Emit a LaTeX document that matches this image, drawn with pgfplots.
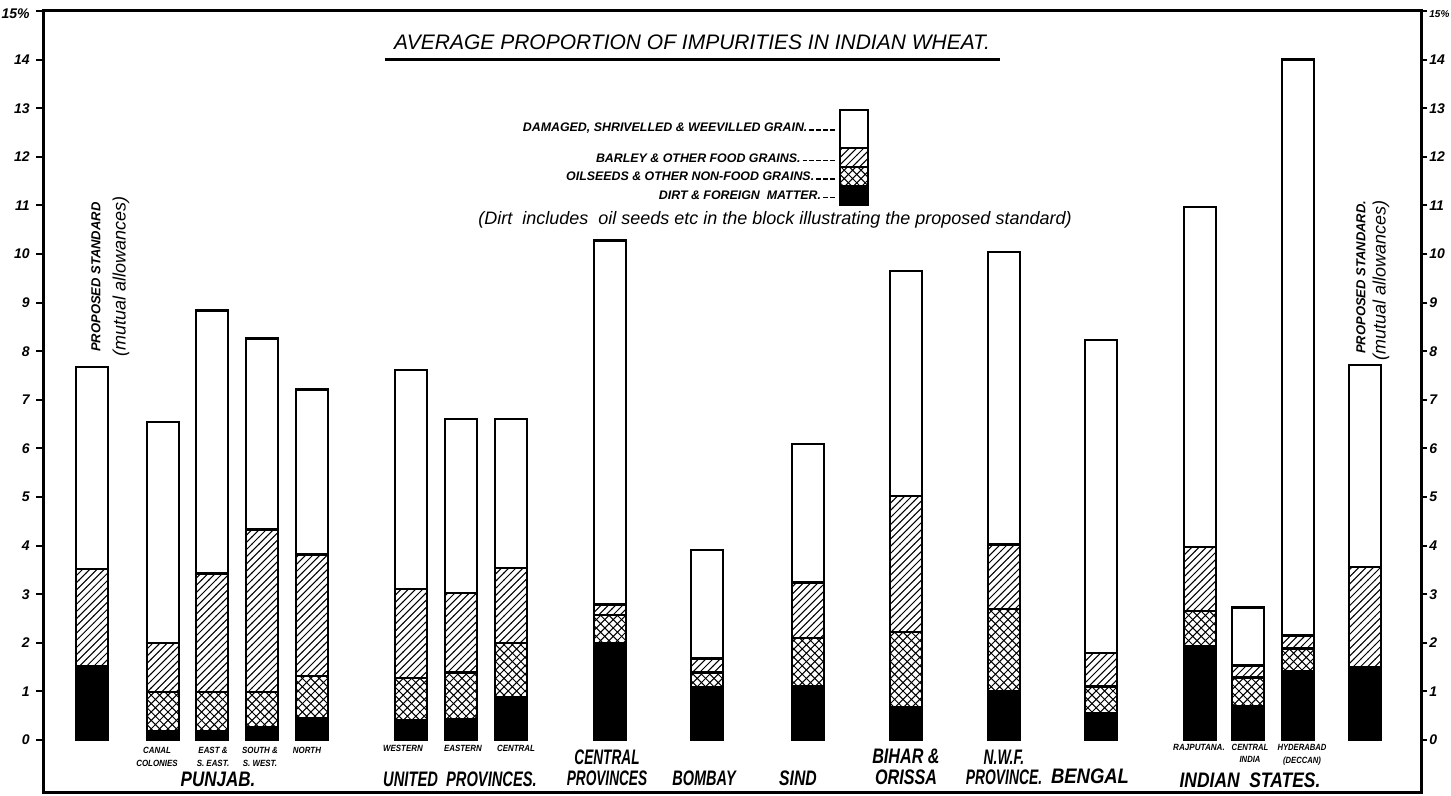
\documentclass[border=0pt]{standalone}
\usepackage{graphicx}
\usepackage{pgfplots}
\pgfplotsset{compat=1.18}
\usepackage{pgfplotstable}
\usetikzlibrary{patterns}
\usepackage{fontspec}
\setmainfont{Liberation Sans}

\pgfdeclarepatternformonly{mycross}{\pgfqpoint{-1pt}{-1pt}}{\pgfqpoint{5.2pt}{5.2pt}}{\pgfqpoint{4.2pt}{4.2pt}}{%
  \pgfsetlinewidth{0.5pt}%
  \pgfpathmoveto{\pgfqpoint{-0.1pt}{-0.1pt}}\pgfpathlineto{\pgfqpoint{4.3pt}{4.3pt}}%
  \pgfpathmoveto{\pgfqpoint{-0.1pt}{4.3pt}}\pgfpathlineto{\pgfqpoint{4.3pt}{-0.1pt}}%
  \pgfusepath{stroke}}
\pgfdeclarepatternformonly{mylines}{\pgfqpoint{-1pt}{-1pt}}{\pgfqpoint{4.6pt}{4.6pt}}{\pgfqpoint{3.6pt}{3.6pt}}{%
  \pgfsetlinewidth{0.5pt}%
  \pgfpathmoveto{\pgfqpoint{-0.1pt}{-0.1pt}}\pgfpathlineto{\pgfqpoint{3.7pt}{3.7pt}}%
  \pgfusepath{stroke}}

\newcommand{\dsh}{\kern1pt\rule[0.15ex]{2.4pt}{0.7pt}}
\newcommand{\cond}[2][0.8]{\scalebox{#1}[1]{\shortstack{#2}}}

\pgfplotstableread{
x     dirt  oil   barley dmg
92    1.52  0     2.00   4.15
163   0.18  0.81  1.01   4.54
212   0.19  0.80  2.44   5.41
262   0.26  0.73  3.34   3.93
312   0.45  0.87  2.50   3.39
411   0.40  0.88  1.83   4.50
461   0.42  0.97  1.63   3.59
511   0.89  1.10  1.55   3.07
610   2.00  0.57  0.22   7.49
707   1.08  0.31  0.29   2.23
808   1.10  1.00  1.14   2.85
906   0.68  1.54  2.80   4.63
1004  1.00  1.70  1.32   6.02
1101  0.55  0.55  0.69   6.44
1200  1.94  0.71  1.32   7.00
1248  0.70  0.59  0.24   1.20
1298  1.42  0.46  0.27   11.85
1365  1.50  0     2.06   4.16
}\wheat

\begin{document}
\begin{tikzpicture}
\begin{axis}[
  name=ax,
  scale only axis,
  width=689pt, height=391pt,
  xmin=43, xmax=1421, ymin=-1.09, ymax=15,
  ybar stacked, bar width=32,
  xtick=\empty,
  ytick={0,1,...,14},
  extra y ticks={15},
  extra y tick labels={15\%},
  extra y tick style={yticklabel style={yshift=-1.5pt}},
  ytick pos=left, yticklabel pos=left,
  tick align=outside, major tick length=3.5pt,
  tick style={line width=1pt,black},
  axis line style={line width=1.5pt},
  /pgf/number format/assume math mode=true,
  yticklabel style={font=\bfseries\itshape\fontsize{7}{8}\selectfont, inner sep=1pt, xshift=-2pt},
  clip=false,
]
\addplot[fill=black, draw=black, line width=1.2pt] table[x=x,y=dirt]{\wheat};
\addplot[draw=black, line width=1.2pt, pattern=mycross] table[x=x,y=oil]{\wheat};
\addplot[draw=black, line width=1.2pt, pattern=mylines] table[x=x,y=barley]{\wheat};
\addplot[fill=white, draw=black, line width=1.2pt] table[x=x,y=dmg]{\wheat};

% title
\node at (axis cs:692,14.36) {\itshape\fontsize{10.5}{11}\selectfont AVERAGE PROPORTION OF IMPURITIES IN INDIAN WHEAT.};
\draw[line width=1.8pt] (axis cs:385,14.0) -- (axis cs:1000,14.0);

% legend
\draw[line width=1.2pt, fill=white] (axis cs:840,12.96) rectangle (axis cs:868,12.18);
\draw[line width=1.2pt, pattern=mylines] (axis cs:840,12.18) rectangle (axis cs:868,11.79);
\draw[line width=1.2pt, pattern=mycross] (axis cs:840,11.79) rectangle (axis cs:868,11.40);
\draw[line width=1.2pt, fill=black] (axis cs:840,11.40) rectangle (axis cs:868,11.01);
\node[anchor=east, font=\bfseries\itshape\fontsize{6.2}{7}\selectfont, inner sep=1pt] at (axis cs:837,12.59) {DAMAGED, SHRIVELLED \& WEEVILLED GRAIN.\dsh\dsh\dsh\dsh};
\node[anchor=east, font=\bfseries\itshape\fontsize{6.2}{7}\selectfont, inner sep=1pt] at (axis cs:837,11.98) {BARLEY \& OTHER FOOD GRAINS.\dsh\dsh\dsh\dsh\dsh};
\node[anchor=east, font=\bfseries\itshape\fontsize{6.2}{7}\selectfont, inner sep=1pt] at (axis cs:837,11.60) {OILSEEDS \& OTHER NON-FOOD GRAINS.\dsh\dsh\dsh};
\node[anchor=east, font=\bfseries\itshape\fontsize{6.2}{7}\selectfont, inner sep=1pt] at (axis cs:837,11.21) {DIRT \& FOREIGN\ \ MATTER.\dsh\dsh};
\node at (axis cs:775,10.70) {\itshape\fontsize{9}{10}\selectfont (Dirt\ \ includes\ \ oil seeds etc in the block illustrating the proposed standard)};

% rotated labels
\node[rotate=90, anchor=west, font=\bfseries\itshape\fontsize{6.5}{7}\selectfont, inner sep=0pt] at (axis cs:96,7.98) {PROPOSED STANDARD};
\node[rotate=90, anchor=west, font=\itshape\fontsize{9}{10}\selectfont, inner sep=0pt] at (axis cs:121,7.88) {(mutual allowances)};
\node[rotate=90, anchor=west, font=\bfseries\itshape\fontsize{6.5}{7}\selectfont, inner sep=0pt] at (axis cs:1361,7.94) {PROPOSED STANDARD.};
\node[rotate=90, anchor=west, font=\itshape\fontsize{9}{10}\selectfont, inner sep=0pt] at (axis cs:1381,7.80) {(mutual allowances)};

% sub labels
\node[font=\bfseries\itshape\fontsize{4.5}{5}\selectfont, inner sep=0pt] at (axis cs:157,-0.35) {\cond[0.88]{CANAL\\COLONIES}};
\node[font=\bfseries\itshape\fontsize{4.5}{5}\selectfont, inner sep=0pt] at (axis cs:213,-0.35) {\cond[0.88]{EAST \&\\S. EAST.}};
\node[font=\bfseries\itshape\fontsize{4.5}{5}\selectfont, inner sep=0pt] at (axis cs:260,-0.35) {\cond[0.88]{SOUTH \&\\S. WEST.}};
\node[anchor=north, font=\bfseries\itshape\fontsize{4.5}{5}\selectfont, inner sep=0pt] at (axis cs:307,-0.14) {\cond[0.88]{NORTH}};
\node[anchor=north, font=\bfseries\itshape\fontsize{4.5}{5}\selectfont, inner sep=0pt] at (axis cs:403,-0.10) {\cond[0.88]{WESTERN}};
\node[anchor=north, font=\bfseries\itshape\fontsize{4.5}{5}\selectfont, inner sep=0pt] at (axis cs:463,-0.10) {\cond[0.88]{EASTERN}};
\node[anchor=north, font=\bfseries\itshape\fontsize{4.5}{5}\selectfont, inner sep=0pt] at (axis cs:516,-0.10) {\cond[0.88]{CENTRAL}};
\node[anchor=north, font=\bfseries\itshape\fontsize{4.5}{5}\selectfont, inner sep=0pt] at (axis cs:1199,-0.08) {\cond[0.9]{RAJPUTANA.}};
\node[anchor=north, font=\bfseries\itshape\fontsize{4.5}{5}\selectfont, inner sep=0pt] at (axis cs:1250,-0.08) {\cond[0.85]{CENTRAL\\INDIA}};
\node[anchor=north, font=\bfseries\itshape\fontsize{4.5}{5}\selectfont, inner sep=0pt] at (axis cs:1302,-0.08) {\cond[0.85]{HYDERABAD\\(DECCAN)}};

% group labels
\node[font=\bfseries\itshape\fontsize{10.5}{11}\selectfont, inner sep=0pt] at (axis cs:218,-0.80) {\cond[0.81]{PUNJAB.}};
\node[font=\bfseries\itshape\fontsize{10.5}{11}\selectfont, inner sep=0pt] at (axis cs:460,-0.80) {\cond[0.70]{UNITED\ \ PROVINCES.}};
\node[font=\bfseries\itshape\fontsize{10.5}{11}\selectfont, inner sep=0pt] at (axis cs:607,-0.58) {\cond[0.65]{CENTRAL\\PROVINCES}};
\node[font=\bfseries\itshape\fontsize{10.5}{11}\selectfont, inner sep=0pt] at (axis cs:704,-0.78) {\cond[0.69]{BOMBAY}};
\node[font=\bfseries\itshape\fontsize{10.5}{11}\selectfont, inner sep=0pt] at (axis cs:798,-0.78) {\cond[0.75]{SIND}};
\node[font=\bfseries\itshape\fontsize{10.5}{11}\selectfont, inner sep=0pt] at (axis cs:906,-0.56) {\cond[0.77]{BIHAR \&\\ORISSA}};
\node[font=\bfseries\itshape\fontsize{10.5}{11}\selectfont, inner sep=0pt] at (axis cs:1004,-0.56) {\cond[0.66]{N.W.F.\\PROVINCE.}};
\node[font=\bfseries\itshape\fontsize{10.5}{11}\selectfont, inner sep=0pt] at (axis cs:1090,-0.74) {\cond[0.88]{BENGAL}};
\node[font=\bfseries\itshape\fontsize{10.5}{11}\selectfont, inner sep=0pt] at (axis cs:1250,-0.82) {\cond[0.83]{INDIAN\ \ STATES.}};
\end{axis}

\begin{axis}[
  scale only axis,
  width=689pt, height=391pt,
  xmin=43, xmax=1421, ymin=-1.09, ymax=15,
  axis x line=none, axis y line*=right,
  ytick={0,1,...,14},
  extra y ticks={15},
  extra y tick labels={15\%},
  extra y tick style={yticklabel style={yshift=-1.5pt, font=\bfseries\itshape\fontsize{5}{6}\selectfont}},
  tick align=outside, major tick length=3pt,
  tick style={line width=1pt,black},
  axis line style={line width=1.5pt},
  /pgf/number format/assume math mode=true,
  yticklabel style={font=\bfseries\itshape\fontsize{7}{8}\selectfont, inner sep=1pt, xshift=0pt},
]
\addplot[draw=none, forget plot] coordinates {(100,0)};
\end{axis}

\pgfresetboundingbox
\path[use as bounding box] ([xshift=-21.5pt,yshift=-1.5pt]ax.south west) rectangle ([xshift=15pt,yshift=5.5pt]ax.north east);
\end{tikzpicture}
\end{document}
